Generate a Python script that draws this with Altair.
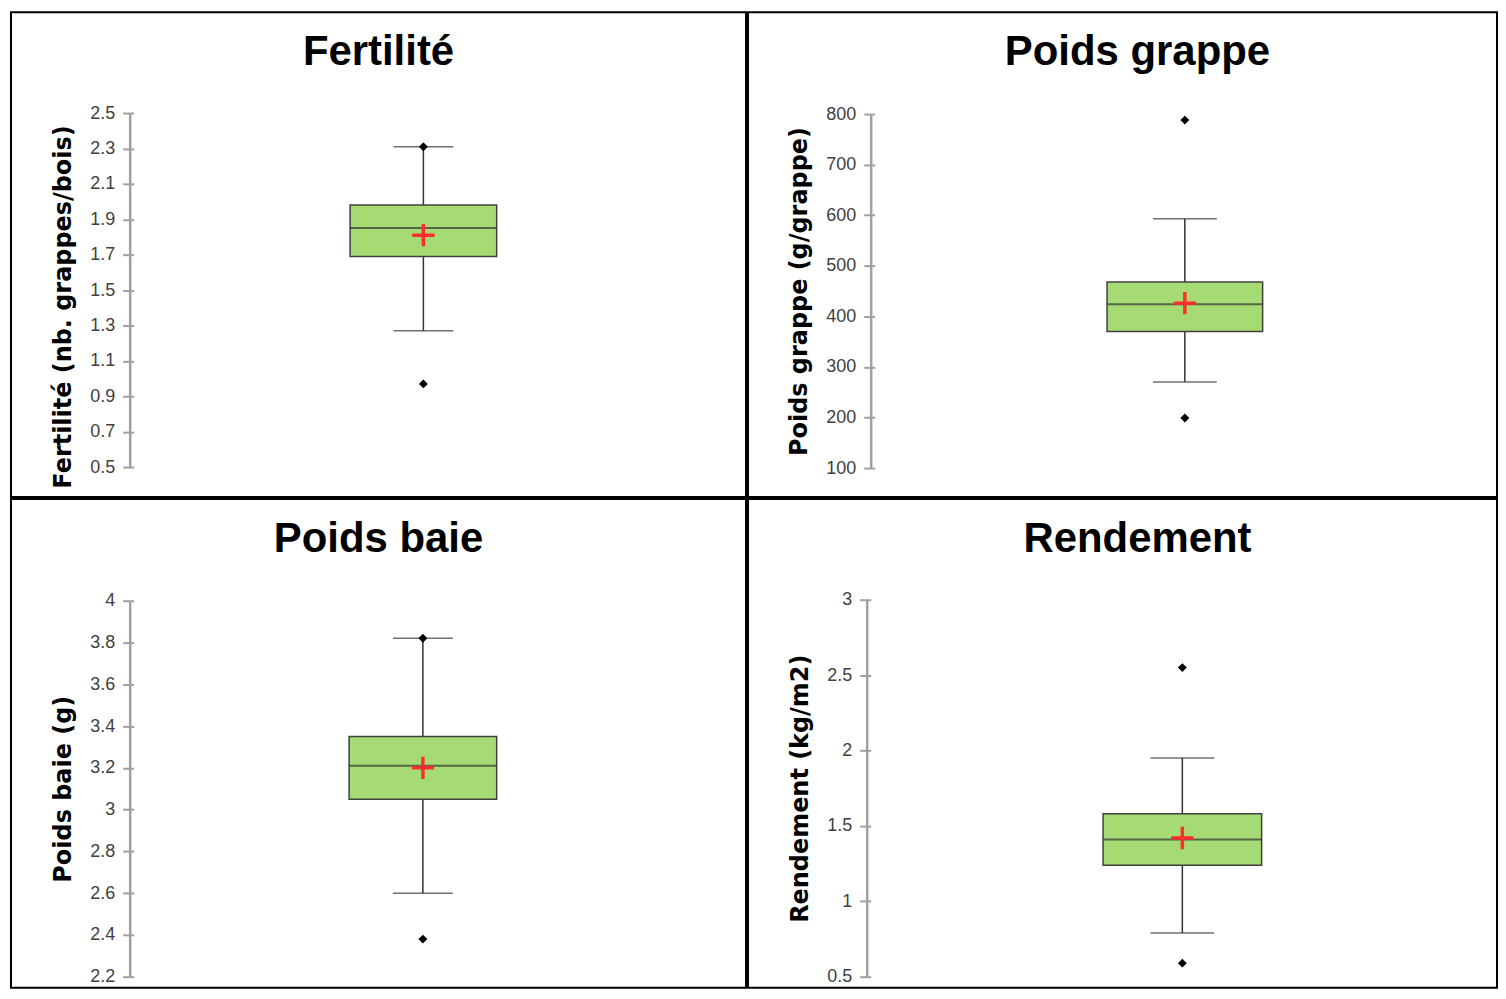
import altair as alt
import pandas as pd

# ---- data ----
titles = ["Fertilité", "Poids grappe", "Poids baie", "Rendement"]
axis_titles = ["Fertilité (nb. grappes/bois)", "Poids grappe (g/grappe)",
               "Poids baie (g)", "Rendement (kg/m2)"]
minimum = [0.97, 199, 2.38, 0.59]
whisker_low = [1.27, 270, 2.60, 0.79]
q1 = [1.69, 370, 3.05, 1.24]
median = [1.85, 424, 3.21, 1.41]
q3 = [1.98, 468, 3.35, 1.58]
whisker_high = [2.31, 593, 3.82, 1.95]
maximum = [2.31, 788, 3.82, 2.55]
mean = [1.81, 426, 3.20, 1.42]
tick_values = [
    [0.5, 0.7, 0.9, 1.1, 1.3, 1.5, 1.7, 1.9, 2.1, 2.3, 2.5],
    [100, 200, 300, 400, 500, 600, 700, 800],
    [2.2, 2.4, 2.6, 2.8, 3.0, 3.2, 3.4, 3.6, 3.8, 4.0],
    [0.5, 1.0, 1.5, 2.0, 2.5, 3.0],
]
label_formats = [".1f", "d", "~g", "~g"]

# ---- layout (styles) ----
cell_w = [737, 751, 737, 751]
cell_h = [486, 486, 490, 490]
y_range = [[456, 101], [457, 102], [479, 102], [479, 101]]
x_range = [[340, 487], [360, 516], [339, 487], [356, 515]]
cap_size = [60, 64, 60, 64]
axis_x = [119, 123, 119, 119]
title_dx = [0, 15, 0, 15]
green = "#A6DB73"
axis_grey = "#A0A0A0"
plus_path = "M-1,0H1M0,-1V1"


def panel(i):
    df = pd.DataFrame({
        "var": [titles[i]],
        "min": [minimum[i]], "wlo": [whisker_low[i]], "q1": [q1[i]],
        "med": [median[i]], "q3": [q3[i]], "whi": [whisker_high[i]],
        "max": [maximum[i]], "mean": [mean[i]],
    })
    lo, hi = tick_values[i][0], tick_values[i][-1]
    yscale = alt.Scale(domain=[lo, hi], range=y_range[i], nice=False, zero=False)
    xscale = alt.Scale(range=x_range[i], paddingInner=0, paddingOuter=0)
    x = alt.X("var:N", scale=xscale, axis=None)
    axis_kw = dict(
        values=tick_values[i], format=label_formats[i], offset=-axis_x[i],
        grid=False, domainColor=axis_grey, domainWidth=2.5, tickColor=axis_grey,
        tickWidth=2, tickSize=7, labelFont="Liberation Sans", labelFontSize=18,
        labelColor="#404040", labelPadding=8, title=axis_titles[i],
        titleFont="DejaVu Sans", titleFontSize=24, titleFontWeight="bold",
        titleColor="#000000", titlePadding=14,
    )
    if i == 0:
        axis_kw["titleY"] = 295
    yaxis = alt.Axis(**axis_kw)
    # inner half of the crossing tick marks
    yaxis_r = alt.Axis(
        orient="right", values=tick_values[i], offset=axis_x[i] - cell_w[i],
        grid=False, domain=False, labels=False, tickColor=axis_grey, tickWidth=2,
        tickSize=4, title=None,
    )
    base = alt.Chart(df)
    whisk = base.mark_rule(color="#333333", strokeWidth=1.5).encode(
        x=x, y=alt.Y("wlo:Q", scale=yscale, axis=yaxis), y2="whi:Q")
    caps_lo = base.mark_tick(color="#333333", size=cap_size[i], thickness=1.5).encode(
        x=x, y=alt.Y("wlo:Q", scale=yscale, axis=yaxis_r))
    caps_hi = base.mark_tick(color="#333333", size=cap_size[i], thickness=1.5).encode(
        x=x, y=alt.Y("whi:Q", scale=yscale, axis=None))
    box = base.mark_bar(color=green, stroke="#404040", strokeWidth=1.5).encode(
        x=x, y=alt.Y("q1:Q", scale=yscale, axis=None), y2="q3:Q")
    med = base.mark_tick(color="#333333", size=x_range[i][1] - x_range[i][0],
                         thickness=2).encode(
        x=x, y=alt.Y("med:Q", scale=yscale, axis=None))
    pmin = base.mark_point(shape="diamond", filled=True, color="black", size=80,
                           opacity=1).encode(
        x=x, y=alt.Y("min:Q", scale=yscale, axis=None))
    pmax = base.mark_point(shape="diamond", filled=True, color="black", size=80,
                           opacity=1).encode(
        x=x, y=alt.Y("max:Q", scale=yscale, axis=None))
    pmean = base.mark_point(shape=plus_path, filled=False, color="#FF2E2E",
                            strokeWidth=3.5, size=500, opacity=1).encode(
        x=x, y=alt.Y("mean:Q", scale=yscale, axis=None))
    return alt.layer(whisk, caps_lo, caps_hi, box, med, pmin, pmax, pmean).resolve_axis(
        y="independent"
    ).properties(
        width=cell_w[i], height=cell_h[i],
        title=alt.TitleParams(titles[i], font="Liberation Sans", fontSize=42,
                              fontWeight="bold", color="#000000", anchor="middle",
                              frame="group", offset=-62, dx=title_dx[i]),
    )


row1 = alt.hconcat(panel(0), panel(1), spacing=0)
row2 = alt.hconcat(panel(2), panel(3), spacing=0)
chart = alt.vconcat(row1, row2, spacing=0).properties(
    padding={"left": 2, "top": 2, "right": 0, "bottom": 0},
    background="white",
).configure_view(stroke="#000000", strokeWidth=2)

chart.save("out.html", embed_options={"renderer": "svg", "actions": False})
